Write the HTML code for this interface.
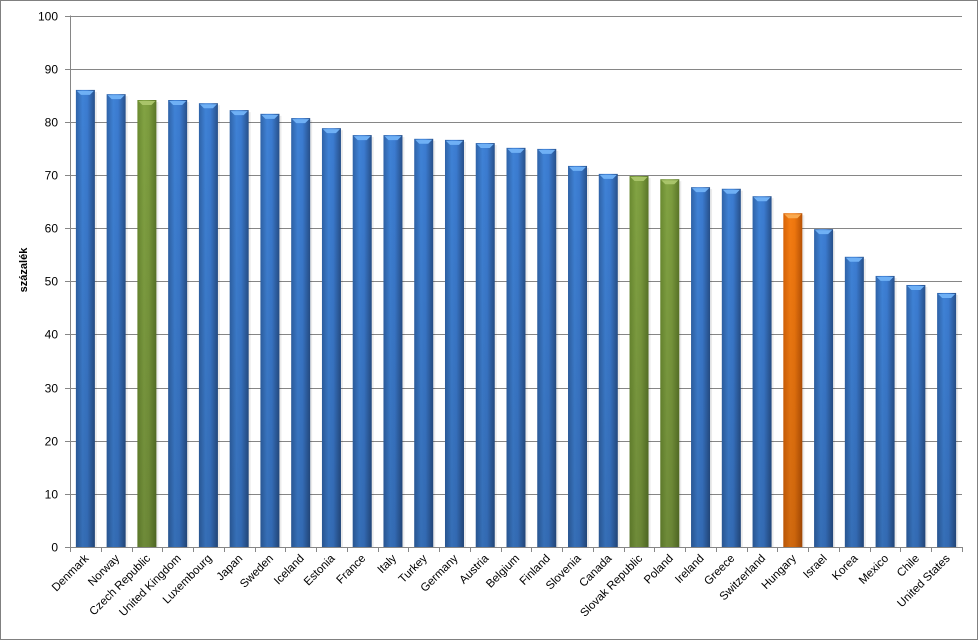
<!DOCTYPE html>
<html><head><meta charset="utf-8"><style>
html,body{margin:0;padding:0;background:#fff;}
svg{display:block;font-family:"Liberation Sans",sans-serif;}
</style></head><body>
<svg id="chart" width="978" height="640" viewBox="0 0 978 640" xmlns="http://www.w3.org/2000/svg">
<defs>
<linearGradient id="gb" x1="0" x2="1" y1="0" y2="0"><stop offset="0" stop-color="#2f63a8"/><stop offset="0.35" stop-color="#3f82d6"/><stop offset="0.6" stop-color="#3b7bd0"/><stop offset="1" stop-color="#27508a"/></linearGradient>
<linearGradient id="gg" x1="0" x2="1" y1="0" y2="0"><stop offset="0" stop-color="#6a8a30"/><stop offset="0.35" stop-color="#82a343"/><stop offset="0.6" stop-color="#7c9c3e"/><stop offset="1" stop-color="#5a7628"/></linearGradient>
<linearGradient id="go" x1="0" x2="1" y1="0" y2="0"><stop offset="0" stop-color="#d86408"/><stop offset="0.35" stop-color="#f47c12"/><stop offset="0.6" stop-color="#ee760e"/><stop offset="1" stop-color="#b85205"/></linearGradient>
<linearGradient id="shade" x1="0" x2="0" y1="0" y2="1"><stop offset="0" stop-color="#000" stop-opacity="0"/><stop offset="1" stop-color="#000" stop-opacity="0.15"/></linearGradient>
</defs>
<rect x="0.5" y="0.5" width="977" height="639" fill="#fff" stroke="#808080"/>
<g id="grid"></g>
<g id="bars"></g>
<g id="axes"></g>
<text transform="translate(27,270) rotate(-90)" text-anchor="middle" font-size="11" font-weight="bold">százalék</text>
</svg>
<script>
const categories=["Denmark","Norway","Czech Republic","United Kingdom","Luxembourg","Japan","Sweden","Iceland","Estonia","France","Italy","Turkey","Germany","Austria","Belgium","Finland","Slovenia","Canada","Slovak Republic","Poland","Ireland","Greece","Switzerland","Hungary","Israel","Korea","Mexico","Chile","United States"];
const values=[86.0,85.2,84.1,84.1,83.5,82.2,81.5,80.7,78.8,77.5,77.5,76.8,76.6,76.0,75.1,74.9,71.7,70.2,69.8,69.2,67.7,67.4,66.0,62.8,59.8,54.6,51.0,49.3,47.8];
const colorGroups=["b","b","g","b","b","b","b","b","b","b","b","b","b","b","b","b","b","b","g","g","b","b","b","o","b","b","b","b","b"];
const yTicks=[0,10,20,30,40,50,60,70,80,90,100];
const NS="http://www.w3.org/2000/svg";
const X0=70,X1=962,Y0=547,Y1=15.5,YMAX=100;
const cw=(X1-X0)/categories.length;
function yScale(v){return Y0-(v/YMAX)*(Y0-Y1);}
function xCenter(i){return X0+cw*(i+0.5);}
function mk(tag,attrs,parent){const e=document.createElementNS(NS,tag);for(const k in attrs)e.setAttribute(k,attrs[k]);parent.appendChild(e);return e;}
const grid=document.getElementById('grid'),bars=document.getElementById('bars'),axes=document.getElementById('axes');
yTicks.forEach(t=>{
  const y=Math.round(yScale(t))+0.5;
  if(t>0){const l=mk('line',{x1:X0,x2:X1,y1:y,y2:y,stroke:'#868686','stroke-width':1},grid);
  
  }
  const tk=mk('line',{x1:X0-5,x2:X0,y1:y,y2:y,stroke:'#868686'},axes);
  
  
  const tx=mk('text',{x:X0-12,y:y+4,'text-anchor':'end','font-size':12},axes);
  tx.textContent=t;
  
  
});
const fills={b:'url(#gb)',g:'url(#gg)',o:'url(#go)'};
const caps={b:'#6fb0f5',g:'#a9c46a',o:'#f9a94f'};
const bw=19;
values.forEach((v,i)=>{
  const cx=xCenter(i),x=cx-bw/2,y=yScale(v),h=Y0-y;
  const g=mk('g',{},bars);
  
  
  mk('rect',{x:x+2,y:y+2,width:bw,height:h-2,fill:'#000','fill-opacity':0.08},g);
  mk('rect',{x:x,y:y,width:bw,height:h,fill:fills[colorGroups[i]]},g);
  mk('rect',{x:x,y:y,width:bw,height:h,fill:'url(#shade)'},g);
  mk('polygon',{points:`${x+1},${y+1} ${x+bw-1},${y+1} ${x+bw-5},${y+5} ${x+5},${y+5}`,fill:caps[colorGroups[i]]},g);
});
mk('line',{x1:X0+0.5,x2:X0+0.5,y1:Y1,y2:Y0,stroke:'#868686'},axes);
mk('line',{x1:X0,x2:X1,y1:Y0+0.5,y2:Y0+0.5,stroke:'#868686'},axes);
for(let i=0;i<=categories.length;i++){
  const x=Math.round(X0+cw*i)+0.5;
  mk('line',{x1:x,x2:x,y1:Y0,y2:Y0+5,stroke:'#868686'},axes);
}
categories.forEach((c,i)=>{
  const cx=xCenter(i)+4,y=Y0+12;
  const t=mk('text',{x:cx,y:y,'text-anchor':'end','font-size':11.5,transform:`rotate(-45 ${cx} ${y})`},axes);
  t.textContent=c;
  
  
});
</script>
</body></html>
